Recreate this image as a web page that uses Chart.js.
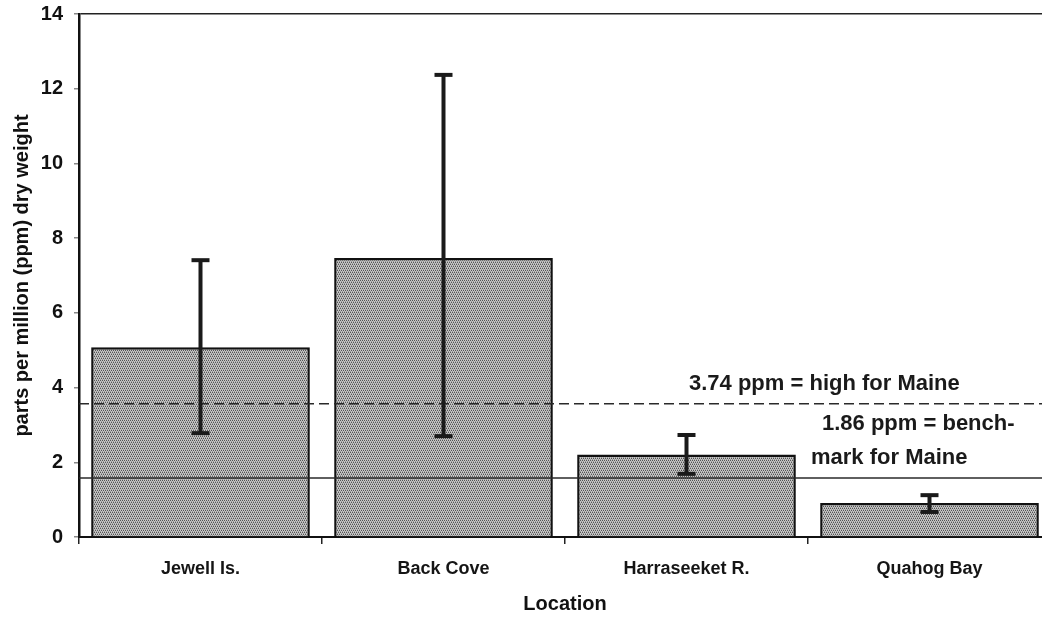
<!DOCTYPE html>
<html>
<head>
<meta charset="utf-8">
<script src="https://cdn.jsdelivr.net/npm/chart.js@4/dist/chart.umd.min.js"></script>
<style>
  html, body { margin: 0; padding: 0; background: #fff; overflow: hidden; }
  canvas { display: block; }
</style>
</head>
<body>
<canvas id="c" width="1060" height="619"></canvas>
<script>
// ---- data ----
const categories = ['Jewell Is.', 'Back Cove', 'Harraseeket R.', 'Quahog Bay'];
const meanValues = [5.08, 7.47, 2.21, 0.91];
const errorLow  = [2.78, 2.70, 1.69, 0.67];
const errorHigh = [7.41, 12.37, 2.73, 1.12];
const highLevel = 3.57;   // drawn level of the "3.74 ppm = high for Maine" line
const benchLevel = 1.58;  // drawn level of the "1.86 ppm = benchmark" line
const highLabel = ['3.74 ppm = high for Maine'];
const benchLabel = ['1.86 ppm = bench-', 'mark for Maine'];
const yMin = 0, yMax = 14, yStep = 2;

// stipple pattern for the bars
function makePattern() {
  const t = document.createElement('canvas');
  t.width = 4; t.height = 4;
  const g = t.getContext('2d');
  g.fillStyle = '#c6c6c6'; g.fillRect(0, 0, 4, 4);
  g.fillStyle = '#555555';
  [[0,0],[2,0],[1,2],[3,2]].forEach(p => g.fillRect(p[0], p[1], 1, 1));
  g.fillStyle = '#9a9a9a';
  [[1,1],[3,1],[0,3],[2,3]].forEach(p => g.fillRect(p[0], p[1], 1, 1));
  return g.createPattern(t, 'repeat');
}
const ctx = document.getElementById('c').getContext('2d');
const pattern = makePattern();

const overlay = {
  id: 'overlay',
  afterDatasetsDraw(chart) {
    const c = chart.ctx, y = chart.scales.y, x = chart.scales.x, a = chart.chartArea;
    c.save();
    // reference lines
    c.strokeStyle = '#2a2a2a';
    c.lineWidth = 1.5;
    c.setLineDash([10, 5]);
    let py = y.getPixelForValue(highLevel);
    c.beginPath(); c.moveTo(a.left, py); c.lineTo(a.right, py); c.stroke();
    c.setLineDash([]);
    py = y.getPixelForValue(benchLevel);
    c.beginPath(); c.moveTo(a.left, py); c.lineTo(a.right, py); c.stroke();
    // error bars
    c.strokeStyle = '#1a1a1a';
    c.lineWidth = 4;
    c.lineCap = 'butt';
    categories.forEach((cat, i) => {
      const px = x.getPixelForValue(i);
      const yl = y.getPixelForValue(errorLow[i]);
      const yh = y.getPixelForValue(errorHigh[i]);
      c.beginPath(); c.moveTo(px, yl); c.lineTo(px, yh); c.stroke();
      c.beginPath(); c.moveTo(px - 9, yl); c.lineTo(px + 9, yl); c.stroke();
      c.beginPath(); c.moveTo(px - 9, yh); c.lineTo(px + 9, yh); c.stroke();
    });
    // annotation text
    c.fillStyle = '#1a1a1a';
    c.font = 'bold 22px "Liberation Sans", Arial, sans-serif';
    c.textBaseline = 'alphabetic';
    c.textAlign = 'left';
    const hy = y.getPixelForValue(highLevel);
    c.fillText(highLabel[0], 689, hy - 14);
    c.fillText(benchLabel[0], 822, hy + 26);
    c.fillText(benchLabel[1], 811, hy + 60);
    c.restore();
  }
};

new Chart(ctx, {
  type: 'bar',
  data: {
    labels: categories,
    datasets: [{
      data: meanValues,
      backgroundColor: pattern,
      borderColor: '#111',
      borderWidth: 2.5,
      categoryPercentage: 1.0,
      barPercentage: 0.9
    }]
  },
  options: {
    responsive: false,
    animation: false,
    devicePixelRatio: 1,
    layout: { padding: { top: 14, right: 9, left: 0, bottom: 0 } },
    plugins: { legend: { display: false }, tooltip: { enabled: false } },
    scales: {
      x: {
        offset: true,
        afterFit(s) { s.height = 82; s.paddingLeft = 0; s.paddingRight = 0; },
        grid: { display: true, offset: true, drawOnChartArea: false, drawTicks: true, tickLength: 7, tickColor: '#222', lineWidth: 1.5 },
        border: { display: true, color: '#111', width: 2 },
        ticks: { color: '#151515', font: { family: '"Liberation Sans", Arial, sans-serif', size: 18, weight: 'bold' }, padding: 14 },
        title: { display: true, text: 'Location', color: '#111', font: { family: '"Liberation Sans", Arial, sans-serif', size: 20, weight: 'bold' }, padding: { top: 0, bottom: 3 } }
      },
      y: {
        min: yMin, max: yMax,
        afterFit(s) { s.width = 79; s.paddingTop = 0; s.paddingBottom = 0; },
        ticks: { stepSize: yStep, color: '#111', font: { family: '"Liberation Sans", Arial, sans-serif', size: 20, weight: 'bold' }, padding: 11 },
        grid: {
          drawOnChartArea: true, drawTicks: true, tickLength: 5,
          color: (c) => (c.tick && c.tick.value === yMax) ? '#222' : 'rgba(0,0,0,0)',
          tickColor: '#888', lineWidth: 1.5
        },
        border: { display: true, color: '#111', width: 2.5 },
        title: { display: true, text: 'parts per million (ppm) dry weight', color: '#111', font: { family: '"Liberation Sans", Arial, sans-serif', size: 20, weight: 'bold' }, padding: { top: 10, bottom: 0 } }
      }
    }
  },
  plugins: [overlay]
});
</script>
</body>
</html>
